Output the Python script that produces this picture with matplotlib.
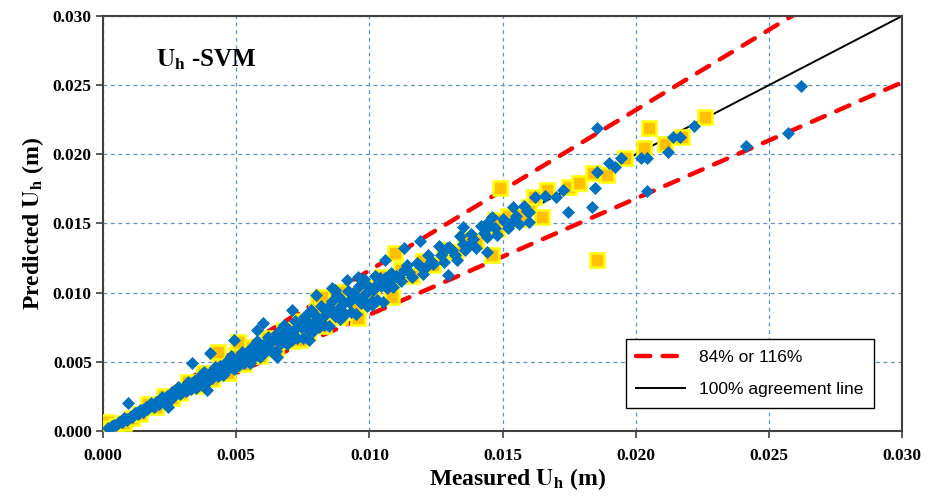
import numpy as np
import matplotlib
matplotlib.use("Agg")
import matplotlib.pyplot as plt

# values, in mm (converted to m below)
blue_meas_mm = [
    0.2, 0.3, 0.4, 0.5, 0.6, 0.7, 0.8, 0.9, 1.0, 1.1, 1.2, 1.3, 1.4, 1.5, 1.6, 1.7, 1.8, 1.9, 2.0,
    2.1, 2.2, 2.3, 2.4, 2.5, 2.6, 2.7, 2.8, 2.9, 3.0, 3.1, 3.2, 3.3, 3.4, 3.5, 3.6, 3.7, 3.8, 3.9,
    4.0, 4.1, 4.2, 4.3, 4.4, 4.5, 4.6, 4.7, 4.8, 4.9, 5.0, 5.1, 5.2, 5.3, 5.4, 5.5, 5.6, 5.7, 5.8,
    5.9, 6.0, 6.1, 6.2, 6.3, 6.4, 6.5, 6.6, 6.7, 6.8, 6.9, 7.0, 7.1, 7.2, 7.3, 7.4, 7.5, 7.6, 7.7,
    7.8, 7.9, 8.0, 8.1, 8.2, 8.3, 8.4, 8.5, 8.6, 8.7, 8.8, 8.9, 9.0, 9.1, 9.2, 9.3, 9.4, 9.5, 9.6,
    9.7, 9.8, 9.9, 10.0, 10.1, 10.2, 10.3, 10.4, 10.5, 10.6, 10.7, 10.8, 10.9, 11.0, 11.2, 11.4,
    11.6, 11.8, 12.0, 12.2, 12.4, 12.6, 12.8, 13.0, 13.2, 13.4, 13.6, 13.8, 14.0, 14.2, 14.4, 14.6,
    14.8, 15.0, 15.2, 15.4, 15.6, 15.8, 16.0, 16.2,
    0.55, 0.85, 1.15, 1.45, 1.75, 2.05, 2.35, 2.65, 2.95, 3.25, 3.55, 3.85, 4.15, 4.45, 4.75, 5.05,
    5.35, 5.65, 5.95, 6.25, 6.55, 6.85, 7.15, 7.45, 7.75, 8.05, 8.35, 8.65, 8.95, 9.25, 9.55, 9.85,
    10.15, 10.45, 10.75, 11.1, 11.5, 11.9, 12.3, 12.7, 13.1, 13.5, 13.9, 14.3, 14.7, 15.1, 15.5, 15.9,
    0.35, 0.75, 1.25, 1.65, 2.15, 2.55, 3.05, 3.45, 3.95, 4.35, 4.85, 5.25, 5.75, 6.15, 6.65, 7.05,
    7.55, 7.95, 8.45, 8.85, 9.35, 9.75, 10.25, 10.65, 11.3, 12.1, 12.9, 13.7, 14.5, 15.3,
    0.94, 2.45, 3.36, 4.0, 3.9, 4.9, 6.0, 7.1, 8.0, 8.7, 9.15, 9.56, 7.75, 6.52, 10.1, 10.58, 12.94,
    13.5, 14.4, 13.28, 14.4, 11.3, 11.9, 5.8, 8.6, 16.6, 17.25, 17.44, 18.34, 18.45, 18.53, 18.56,
    19.01, 19.2, 19.46, 20.2, 20.4, 20.4, 21.2, 21.4, 21.64, 22.2, 24.15, 25.7, 26.2, 17.0, 16.0,
]
blue_pred_mm = [
    0.22, 0.28, 0.42, 0.45, 0.65, 0.67, 0.90, 0.82, 1.04, 1.02, 1.32, 1.20, 1.48, 1.34, 1.74, 1.62,
    2.02, 1.73, 2.08, 1.95, 2.42, 2.12, 2.54, 2.23, 2.83, 2.57, 3.14, 2.64, 3.12, 2.88, 3.52, 3.04,
    3.60, 3.12, 3.92, 3.52, 4.26, 3.55, 4.16, 3.81, 4.62, 3.96, 4.66, 4.01, 5.01, 4.47, 5.38, 4.46,
    5.20, 4.74, 5.72, 4.88, 5.72, 4.90, 6.10, 5.42, 6.50, 5.37, 6.24, 5.67, 6.82, 5.80, 6.78, 5.79,
    7.19, 6.37, 7.62, 6.28, 7.28, 6.60, 7.92, 6.72, 7.84, 6.68, 8.28, 7.32, 8.74, 7.19, 8.32, 7.53,
    9.02, 7.64, 8.90, 7.57, 9.37, 8.27, 9.86, 8.10, 9.36, 8.46, 10.12, 8.56, 9.96, 8.46, 10.46,
    9.22, 10.98, 9.01, 10.40, 9.39, 11.22, 9.48, 11.02, 9.35, 11.08, 10.43, 11.45, 10.41, 11.22,
    10.81, 11.97, 11.14, 12.15, 11.34, 12.75, 12.09, 13.36, 12.22, 13.26, 12.74, 14.07, 13.06,
    14.21, 13.23, 14.84, 14.04, 15.48, 14.13, 15.30, 14.67, 16.17, 14.98, 16.27, 15.12, 16.93,
    0.58, 0.88, 1.20, 1.50, 1.80, 2.10, 2.40, 2.70, 3.00, 3.30, 3.60, 3.90, 4.20, 4.50, 4.80, 5.10,
    5.40, 5.70, 6.00, 6.30, 6.60, 6.90, 7.20, 7.50, 7.80, 8.10, 8.40, 8.70, 9.00, 9.30, 9.60, 9.90,
    10.20, 10.50, 10.80, 11.1, 11.5, 11.9, 12.3, 12.7, 13.1, 13.5, 13.9, 14.3, 14.7, 15.1, 15.5, 15.9,
    0.37, 0.72, 1.29, 1.60, 2.22, 2.47, 3.14, 3.35, 4.07, 4.22, 5.00, 5.09, 5.92, 5.97, 6.85, 6.84,
    7.78, 7.71, 8.70, 8.58, 9.63, 9.46, 10.56, 10.33, 11.6, 11.8, 13.2, 13.4, 14.8, 15.0,
    2.02, 1.73, 4.9, 5.6, 2.96, 6.6, 7.8, 8.75, 9.8, 10.2, 10.9, 11.1, 6.6, 5.35, 9.1, 12.36, 11.28,
    14.75, 15.04, 12.36, 12.94, 13.2, 13.7, 7.3, 10.34, 16.99, 17.42, 15.83, 16.2, 17.57, 21.9,
    18.72, 19.37, 19.1, 19.73, 19.7, 19.73, 17.35, 20.17, 21.25, 21.25, 22.05, 20.6, 21.54, 24.94,
    16.9, 15.8,
]

yellow_meas_mm = [
    0.15, 0.3, 0.5, 0.8, 1.1, 1.4, 1.7, 2.0, 2.3, 2.6, 2.9, 3.2, 3.5, 3.8, 4.1, 4.4, 4.7, 5.0, 5.3,
    5.6, 5.9, 6.2, 6.5, 6.8, 7.1, 7.4, 7.7, 8.0, 8.3, 8.6, 8.9, 9.2, 9.5, 9.8, 10.1, 10.4, 10.8,
    11.2, 11.6, 12.0, 12.4, 12.8, 13.2, 13.6, 14.0, 14.4, 14.8, 15.2, 15.6, 16.0,
    4.31, 5.06, 7.39, 8.06, 8.87, 9.56, 8.21, 10.95, 10.83, 10.46, 14.89, 18.55, 16.49, 16.68,
    16.19, 15.75, 14.7, 14.6, 17.5, 17.88, 18.38, 18.93, 19.6, 20.29, 20.48, 21.08, 21.75, 22.61,
]
yellow_pred_mm = [
    0.65, 0.2, 0.35, 0.55, 0.9, 1.25, 1.95, 1.75, 2.55, 2.35, 2.75, 3.5, 3.25, 4.2, 3.75, 4.85,
    4.2, 5.5, 4.85, 6.1, 5.4, 6.7, 5.95, 7.3, 6.5, 7.95, 7.1, 8.6, 7.6, 9.2, 8.2, 9.8, 8.8, 10.3,
    9.5, 10.9, 10.2, 11.6, 11.2, 12.3, 12.0, 13.1, 12.9, 13.9, 13.7, 14.6, 14.6, 15.5, 15.3, 16.2,
    5.71, 6.43, 6.58, 9.47, 10.05, 8.17, 9.69, 12.87, 9.69, 11.13, 17.57, 12.36, 15.47, 17.42,
    16.92, 15.61, 15.25, 12.7, 17.6, 17.93, 18.65, 18.5, 19.7, 20.46, 21.9, 20.75, 21.25, 22.7,
]

band_x = [0.0, 0.030]
legend_labels = ["84% or 116%", "100% agreement line"]
ticks = [0.000, 0.005, 0.010, 0.015, 0.020, 0.025, 0.030]

bx = np.array(blue_meas_mm) / 1000
by = np.array(blue_pred_mm) / 1000
yx = np.array(yellow_meas_mm) / 1000
yy = np.array(yellow_pred_mm) / 1000
lx = np.array(band_x)

plt.rcParams["mathtext.fontset"] = "stix"
serif = "Liberation Serif"

fig = plt.figure(figsize=(9.36, 4.97), dpi=100)
ax = fig.add_axes([0.110, 0.133, 0.854, 0.835])

ax.grid(True, color="#5b8fd0", linestyle=(0, (3, 3)), linewidth=0.9, zorder=0)
ax.set_axisbelow(True)

up, = ax.plot(lx, lx * 1.16, color="#ff0000", lw=3.2, dashes=(3.2, 2.8),
              dash_capstyle="round", zorder=2, label=legend_labels[0])
ax.plot(lx, lx * 0.84, color="#ff0000", lw=3.2, dashes=(3.2, 2.8),
        dash_capstyle="round", zorder=2)
one, = ax.plot(lx, lx, color="black", lw=1.4, zorder=2, label=legend_labels[1])

ax.plot(yx, yy, "s", ms=9.5, mfc="#ffc000", mec="#ffff00", mew=1.8, ls="none", zorder=3)
ax.plot(bx, by, "D", ms=6.5, mfc="#0070c0", mec="#0070c0", mew=0.5, ls="none", zorder=4)

ax.set_xlim(0, 0.03)
ax.set_ylim(0, 0.03)
ax.set_xticks(ticks)
ax.set_yticks(ticks)
ax.set_xticklabels([f"{t:.3f}" for t in ticks])
ax.set_yticklabels([f"{t:.3f}" for t in ticks])
for lab in ax.get_xticklabels() + ax.get_yticklabels():
    lab.set_fontfamily(serif)
    lab.set_fontweight("bold")
    lab.set_fontsize(12.5)
ax.tick_params(direction="out", length=5, width=1.2, color="#404040", pad=3)
ax.tick_params(axis="x", pad=7)
for s in ax.spines.values():
    s.set_color("#404040")
    s.set_linewidth(1.5)

ax.set_xlabel(r"Measured $\mathbf{U_h}$ (m)", fontfamily=serif, fontweight="bold",
              fontsize=17, labelpad=4)
ax.xaxis.set_label_coords(0.518, -0.085)
ax.set_ylabel(r"Predicted $\mathbf{U_h}$ (m)", fontfamily=serif, fontweight="bold",
              fontsize=17, labelpad=5)
ax.text(0.0020, 0.0268, r"$\mathbf{U_h}$ -SVM", fontfamily=serif, fontweight="bold",
        fontsize=18, va="center")

leg = ax.legend(handles=[up, one], loc="lower right", bbox_to_anchor=(0.975, 0.035),
                prop={"family": "Liberation Sans", "size": 12.5}, frameon=True,
                fancybox=False, edgecolor="black", framealpha=1, handlelength=2.8,
                labelspacing=1.0, borderpad=0.6)
leg.get_frame().set_linewidth(1.0)

fig.savefig("out.png", dpi=100)
